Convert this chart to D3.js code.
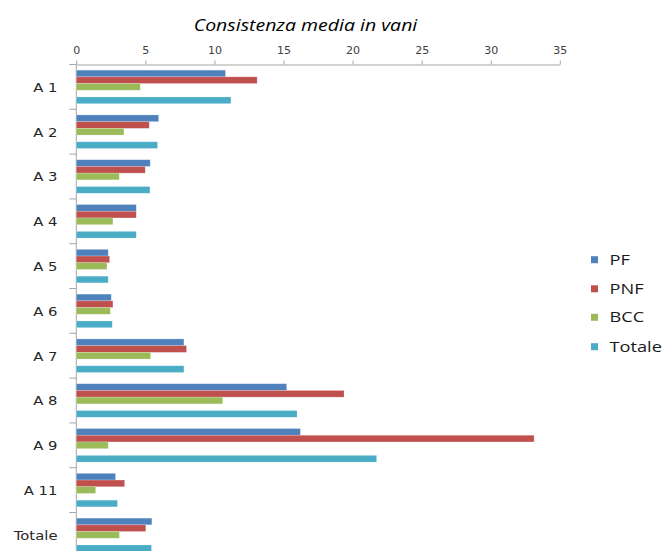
<!DOCTYPE html>
<html>
<head>
<meta charset="utf-8">
<script src="https://cdn.jsdelivr.net/npm/d3@7"></script>
<style>
  html, body { margin: 0; padding: 0; background: #ffffff; }
  svg { display: block; }
</style>
</head>
<body>
<svg id="chart" width="665" height="551"></svg>
<script>
// Categories (areas) and the average size, in rooms, per series
const categories = ["A 1", "A 2", "A 3", "A 4", "A 5", "A 6", "A 7", "A 8", "A 9", "A 11", "Totale"];
const seriesNames = ["PF", "PNF", "BCC", "Totale"];
const pfValues     = [10.8, 5.96, 5.35, 4.34, 2.31, 2.53, 7.79, 15.23, 16.22, 2.84, 5.47];
const pnfValues    = [13.09, 5.28, 4.99, 4.34, 2.41, 2.65, 7.98, 19.38, 33.14, 3.5, 5.03];
const bccValues    = [4.63, 3.45, 3.11, 2.65, 2.22, 2.46, 5.38, 10.6, 2.31, 1.4, 3.12];
const totaleValues = [11.19, 5.88, 5.33, 4.34, 2.31, 2.6, 7.79, 15.98, 21.74, 2.98, 5.44];
const tickValues = [0, 5, 10, 15, 20, 25, 30, 35];
const titleText = "Consistenza media in vani";

const seriesValues = [pfValues, pnfValues, bccValues, totaleValues];
const colors = ["#4F81BD", "#C0504D", "#9BBB59", "#4BACC6"];
// slot order inside each group: a blank slot sits between BCC and Totale
const slotOrder = ["PF", "PNF", "BCC", "_gap", "Totale"];

const svg = d3.select("#chart");

// stretch text horizontally by a factor, keeping its anchor
function stretch(sel, factor) {
  sel.each(function () {
    const w = this.getComputedTextLength();
    d3.select(this).attr("textLength", w * factor).attr("lengthAdjust", "spacingAndGlyphs");
  });
}

const plotTop = 64.5;
const band = 44.8;

const x = d3.scaleLinear().domain([0, 35]).range([76.3, 559.8]);
const y = d3.scaleBand().domain(categories).range([plotTop, plotTop + band * categories.length]).padding(0);
const ySlot = d3.scaleBand().domain(slotOrder).range([0, y.bandwidth()]).paddingInner(0).paddingOuter(0.84);

// title
svg.append("text")
  .attr("x", 305.5).attr("y", 31)
  .attr("text-anchor", "middle")
  .attr("font-family", "'Open Sans', sans-serif")
  .attr("font-style", "italic")
  .attr("font-size", 16.5)
  .attr("fill", "#000")
  .text(titleText)
  .call(stretch, 1.18);

// top value axis
const xAxis = d3.axisTop(x).tickValues(tickValues).tickSize(4).tickSizeOuter(0).tickPadding(7);
const gx = svg.append("g").attr("transform", `translate(0,${plotTop})`).call(xAxis);
gx.select(".domain").attr("stroke", "#a6a6a6");
gx.selectAll(".tick line").attr("stroke", "#a6a6a6");
gx.selectAll(".tick text")
  .attr("font-family", "'DejaVu Sans', sans-serif")
  .attr("font-size", 10.5)
  .attr("fill", "#404040")
  .call(stretch, 1.05);

// vertical category axis: line plus ticks at group boundaries
svg.append("line")
  .attr("x1", x(0)).attr("x2", x(0))
  .attr("y1", plotTop).attr("y2", 551)
  .attr("stroke", "#a6a6a6");
const boundaries = categories.map(c => y(c));
svg.append("g").selectAll("line").data(boundaries).join("line")
  .attr("x1", x(0) - 7).attr("x2", x(0))
  .attr("y1", d => d).attr("y2", d => d)
  .attr("stroke", "#a6a6a6");

svg.append("g").selectAll("text").data(categories).join("text")
  .attr("x", 57.5)
  .attr("y", d => y(d) + y.bandwidth() / 2 + 4.8)
  .attr("text-anchor", "end")
  .attr("font-family", "'DejaVu Sans', sans-serif")
  .attr("font-size", 13)
  .attr("fill", "#262626")
  .text(d => d)
  .call(stretch, 1.14);

// bars
const barData = [];
categories.forEach((c, i) => {
  seriesNames.forEach((s, k) => {
    barData.push({ cat: c, series: s, value: seriesValues[k][i], color: colors[k] });
  });
});
svg.append("g").selectAll("rect").data(barData).join("rect")
  .attr("x", x(0))
  .attr("y", d => y(d.cat) + ySlot(d.series))
  .attr("width", d => x(d.value) - x(0))
  .attr("height", ySlot.bandwidth())
  .attr("fill", d => d.color)
  .attr("stroke", "rgba(255,255,255,0.35)")
  .attr("stroke-width", 0.6);

// legend
const legendRows = [259.7, 288.8, 317.3, 346.7];
const lg = svg.append("g");
seriesNames.forEach((s, k) => {
  lg.append("rect")
    .attr("x", 591).attr("y", legendRows[k] - 3.5)
    .attr("width", 7).attr("height", 7)
    .attr("fill", colors[k]);
  lg.append("text")
    .attr("x", 609.5).attr("y", legendRows[k] + 5)
    .attr("font-family", "'Open Sans', sans-serif")
    .attr("font-size", 14)
    .attr("fill", "#1a1a1a")
    .text(s)
    .call(stretch, 1.3);
});
</script>
</body>
</html>
